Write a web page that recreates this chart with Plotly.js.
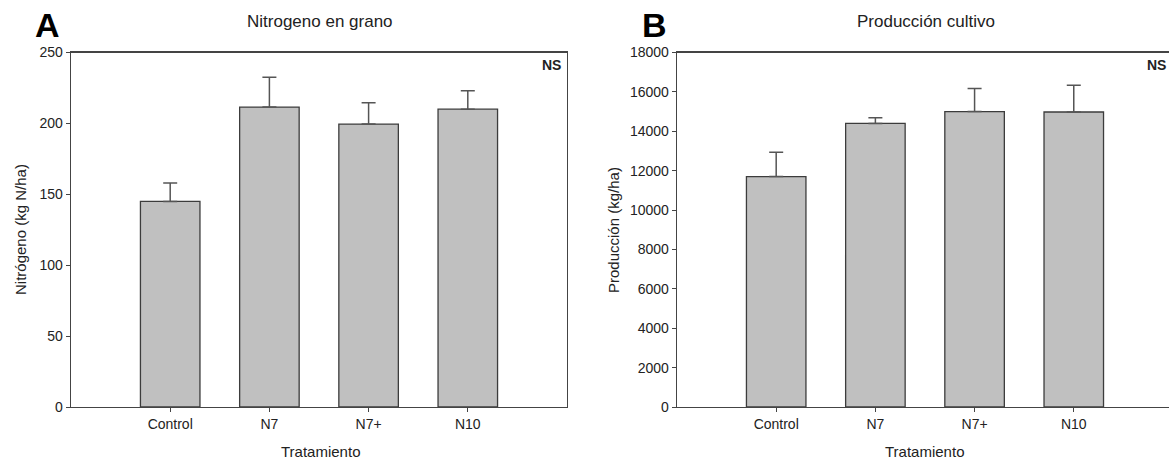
<!DOCTYPE html>
<html><head><meta charset="utf-8">
<script src="https://cdn.plot.ly/plotly-3.0.1.min.js"></script>
<style>html,body{margin:0;padding:0;background:#fff}#c{width:1169px;height:463px}</style>
</head><body><div id="c"></div>
<script>
const categories = ["Control", "N7", "N7+", "N10"];
const nitrogenMean = [145, 211.5, 199.5, 210];
const nitrogenErr = [13, 21, 15, 13];
const yieldMean = [11700, 14400, 15000, 14980];
const yieldErr = [1230, 290, 1170, 1360];
const panelTitles = ["Nitrogeno en grano", "Producción cultivo"];
const yTitles = ["Nitrógeno (kg N/ha)", "Producción (kg/ha)"];
const xTitle = "Tratamiento";

const W = 1169, H = 463;
const px = v => v / W, py = v => 1 - v / H;
const FONT = "Liberation Sans, Arial, sans-serif";
const barStyle = {color: "#c0c0c0", line: {color: "#3c3c3c", width: 1.3}};
const errStyle = (arr) => ({type: "data", array: arr, symmetric: false, arrayminus: arr.map(() => 0), visible: true, color: "#555", thickness: 1.5, width: 7});

const traces = [
  {type: "bar", x: categories, y: nitrogenMean, error_y: errStyle(nitrogenErr), marker: barStyle, width: 0.6, xaxis: "x", yaxis: "y", hoverinfo: "none"},
  {type: "bar", x: categories, y: yieldMean, error_y: errStyle(yieldErr), marker: barStyle, width: 0.6, xaxis: "x2", yaxis: "y2", hoverinfo: "none"}
];

const axCommon = {showgrid: false, zeroline: false, showline: true, linecolor: "#444", linewidth: 1.3, ticks: "outside", ticklen: 4, tickcolor: "#444", tickfont: {family: FONT, size: 14, color: "#222"}};
const yDom = [1 - 407 / H, 1 - 52.5 / H];

const ann = (text, x, y, size, extra) => Object.assign({text: text, x: px(x), y: py(y), xref: "paper", yref: "paper", xanchor: "center", yanchor: "middle", showarrow: false, font: {family: FONT, size: size, color: "#222"}}, extra || {});

const layout = {
  width: W, height: H, margin: {l: 0, r: 0, t: 0, b: 0}, showlegend: false,
  paper_bgcolor: "#fff", plot_bgcolor: "#fff", bargap: 0.4,
  xaxis: Object.assign({}, axCommon, {domain: [px(71), px(567)], type: "category", range: [-1, 4], mirror: true, anchor: "y"}),
  yaxis: Object.assign({}, axCommon, {domain: yDom, range: [0, 250], dtick: 50, tickformat: "d", mirror: true, anchor: "x"}),
  xaxis2: Object.assign({}, axCommon, {domain: [px(677), 1], type: "category", range: [-1, 3.96], mirror: true, anchor: "y2"}),
  yaxis2: Object.assign({}, axCommon, {domain: yDom, range: [0, 18000], dtick: 2000, tickformat: "d", mirror: false, anchor: "x2"}),
  annotations: [
    {text: "<b>A</b>", x: px(33), y: py(4), xref: "paper", yref: "paper", xanchor: "left", yanchor: "top", showarrow: false, font: {family: FONT, size: 34, color: "#000"}},
    {text: "<b>B</b>", x: px(640), y: py(4), xref: "paper", yref: "paper", xanchor: "left", yanchor: "top", showarrow: false, font: {family: FONT, size: 34, color: "#000"}},
    ann(panelTitles[0], 320, 21, 17),
    ann(panelTitles[1], 926, 21, 17),
    ann(yTitles[0], 20, 230, 15, {textangle: -90}),
    ann(yTitles[1], 613, 230, 15, {textangle: -90}),
    ann(xTitle, 320, 451, 15),
    ann(xTitle, 924, 451, 15),
    ann("<b>NS</b>", 563, 65, 14, {xanchor: "right"}),
    ann("<b>NS</b>", 1168, 65, 14, {xanchor: "right"})
  ]
};

Plotly.newPlot("c", traces, layout, {staticPlot: true, displayModeBar: false});
</script></body></html>
